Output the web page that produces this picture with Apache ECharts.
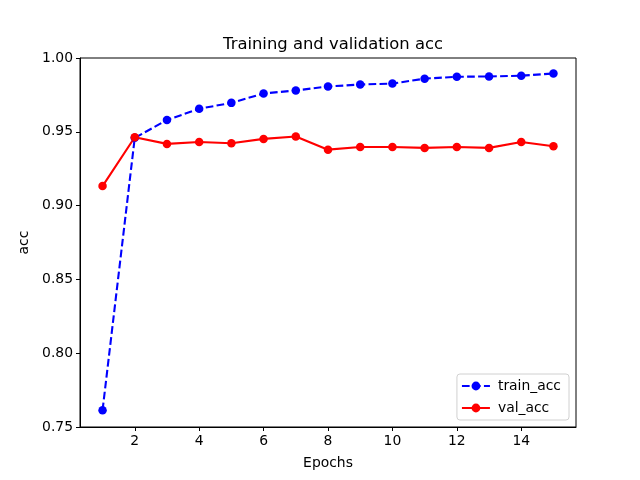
<!DOCTYPE html>
<html><head><meta charset="utf-8">
<script src="https://cdn.jsdelivr.net/npm/echarts@6/dist/echarts.min.js"></script>
<style>html,body{margin:0;padding:0;background:#fff}#c{width:640px;height:480px}</style>
</head><body><div id="c"></div>
<script>
const epochs = [1,2,3,4,5,6,7,8,9,10,11,12,13,14,15];
const trainAcc = [0.7613,0.9459,0.9580,0.9656,0.9696,0.9760,0.9780,0.9807,0.9820,0.9827,0.9860,0.9873,0.9875,0.9880,0.9895];
const valAcc = [0.9132,0.9463,0.9418,0.9431,0.9422,0.9452,0.9468,0.9379,0.9397,0.9397,0.9391,0.9397,0.9391,0.9431,0.9402];
const xTicks = [2,4,6,8,10,12,14];
const FONT = 'DejaVu Sans';
const chart = echarts.init(document.getElementById('c'), null, {renderer:'canvas'});
chart.setOption({
  animation:false,
  textStyle:{fontFamily:FONT},
  title:{text:'Training and validation acc', left:328, top:32, textAlign:'center',
    textStyle:{fontFamily:FONT, fontSize:16.4, fontWeight:'normal', color:'#000'}},
  grid:{left:80, right:64, top:58, bottom:53, show:true, borderColor:'#000', borderWidth:1},
  legend:{orient:'vertical', right:71, bottom:60, backgroundColor:'rgba(255,255,255,0.8)',
    borderColor:'#d0d0d0', borderWidth:1, borderRadius:3, padding:[5,8,5,4], itemGap:8,
    itemWidth:28, itemHeight:11, textStyle:{fontFamily:FONT, fontSize:13.9, color:'#000', padding:[0,0,0,3]},
    data:['train_acc','val_acc']},
  xAxis:{type:'value', min:0.3, max:15.7, name:'Epochs', nameLocation:'middle', nameGap:29,
    nameTextStyle:{fontFamily:FONT, fontSize:13.9, color:'#000'},
    splitLine:{show:false},
    axisLine:{show:true, onZero:false, lineStyle:{color:'#000'}},
    axisTick:{show:true, length:4, customValues:xTicks, lineStyle:{color:'#000'}},
    axisLabel:{customValues:xTicks, fontFamily:FONT, fontSize:13.9, color:'#000', margin:7}},
  yAxis:{type:'value', min:0.75, max:1.0, interval:0.05, name:'acc', nameLocation:'middle', nameGap:43,
    nameTextStyle:{fontFamily:FONT, fontSize:13.9, color:'#000'},
    splitLine:{show:false},
    axisLine:{show:true, onZero:false, lineStyle:{color:'#000'}},
    axisTick:{show:true, length:4, lineStyle:{color:'#000'}},
    axisLabel:{fontFamily:FONT, fontSize:13.9, color:'#000', margin:7, formatter:v=>v.toFixed(2)}},
  series:[
    {name:'train_acc', type:'line', data:epochs.map((e,i)=>[e,trainAcc[i]]), symbol:'circle', symbolSize:8.5,
      itemStyle:{color:'#0000ff'}, lineStyle:{color:'#0000ff', width:2.1, type:[7.7,3.3]}},
    {name:'val_acc', type:'line', data:epochs.map((e,i)=>[e,valAcc[i]]), symbol:'circle', symbolSize:8.5,
      itemStyle:{color:'#ff0000'}, lineStyle:{color:'#ff0000', width:2.1}}
  ]
});
</script></body></html>
